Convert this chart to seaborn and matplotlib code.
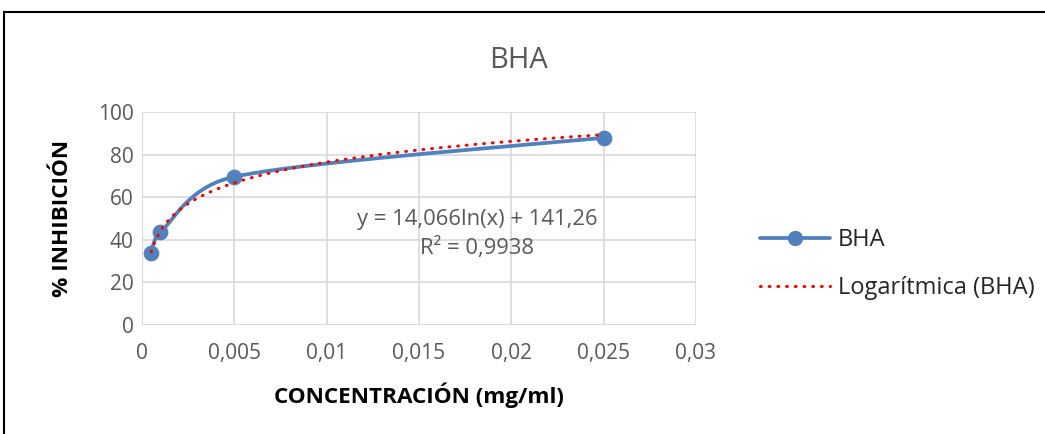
import numpy as np
import pandas as pd
import matplotlib
matplotlib.use("Agg")
import matplotlib.pyplot as plt
import seaborn as sns
from matplotlib.lines import Line2D
from matplotlib.patches import Rectangle

# Data
concentration = [0.0005, 0.001, 0.005, 0.025]
inhibition = [33.7, 43.5, 69.6, 87.9]
fit_a = 14.066
fit_b = 141.26
r2_text = "R² = 0,9938"
eq_text = "y = 14,066ln(x) + 141,26"
x_ticks = [0, 0.005, 0.01, 0.015, 0.02, 0.025, 0.03]
x_tick_labels = ["0", "0,005", "0,01", "0,015", "0,02", "0,025", "0,03"]
y_ticks = [0, 20, 40, 60, 80, 100]

sns.set_theme(style="white")
plt.rcParams['font.family'] = ['Open Sans', 'DejaVu Sans']

BLUE = "#4f81bd"
RED = "#ff0000"
GRID = "#d9d9d9"
TXT = "#595959"
DOTS = (0, (0.25, 2.6))

fig = plt.figure(figsize=(10.45, 4.34), dpi=100)
ax = fig.add_axes([142/1045, 1-325/434, (696-142)/1045, (325-112)/434])
ax.set_xlim(0, 0.03)
ax.set_ylim(0, 100)

# Excel-like smoothed line: Bezier through the data points in screen space
def smooth_screen(xs, ys, n=80):
    pts = ax.transData.transform(np.column_stack([xs, ys]))
    m = len(pts)
    out = [pts[0:1]]
    for i in range(m - 1):
        p1, p2 = pts[i], pts[i+1]
        seg = np.linalg.norm(p2 - p1)
        p0 = pts[i-1] if i > 0 else p1
        p3 = pts[i+2] if i + 2 < m else p2
        def ctrl(t):
            L = np.linalg.norm(t)
            if L == 0:
                return np.zeros(2)
            return t / L * min(L / 6.0, 0.5 * seg)
        c1 = p1 + ctrl(p2 - p0)
        c2 = p2 - ctrl(p3 - p1)
        tt = np.linspace(0, 1, n)[1:, None]
        b = ((1-tt)**3)*p1 + 3*((1-tt)**2)*tt*c1 + 3*(1-tt)*tt**2*c2 + tt**3*p2
        out.append(b)
    return ax.transData.inverted().transform(np.vstack(out))

curve = smooth_screen(concentration, inhibition)
ax.plot(curve[:, 0], curve[:, 1], color=BLUE, lw=2.7, solid_capstyle="round", zorder=3)
df = pd.DataFrame({"x": concentration, "y": inhibition})
sns.scatterplot(data=df, x="x", y="y", ax=ax, color=BLUE, s=110, edgecolor=BLUE, zorder=4, legend=False)

# trend line
tx = np.linspace(concentration[0], concentration[-1], 400)
tdf = pd.DataFrame({"x": tx, "y": fit_a*np.log(tx) + fit_b})
sns.lineplot(data=tdf, x="x", y="y", ax=ax, color=RED, lw=2.2, linestyle=DOTS, zorder=5)
for l in ax.lines:
    if l.get_color() == RED:
        l.set_dash_capstyle("round")

ax.set_xlim(0, 0.03)
ax.set_ylim(0, 100)
ax.set_xticks(x_ticks)
ax.set_xticklabels(x_tick_labels)
ax.set_yticks(y_ticks)
ax.grid(True, color=GRID, lw=1.2)
for s in ax.spines.values():
    s.set_visible(False)
ax.axhline(0, color=GRID, lw=1.5, zorder=1)
ax.axvline(0, color=GRID, lw=1.5, zorder=1)
ax.tick_params(axis="both", length=0, labelsize=15, colors=TXT)
ax.tick_params(axis="y", pad=6)
ax.tick_params(axis="x", pad=13)
ax.set_xlabel("CONCENTRACIÓN (mg/ml)", fontsize=16.2, fontweight="bold", color="black")
ax.set_ylabel("% INHIBICIÓN", fontsize=16.2, fontweight="bold", color="black")
ax.xaxis.set_label_coords(0.5, (325-395)/213)
ax.xaxis.label.set_va("center")
ax.yaxis.set_label_coords((62-142)/554, 0.5)
ax.yaxis.label.set_va("center")

ax.text(0.01814, 49.3, eq_text, ha="center", va="center", fontsize=15.8, color=TXT)
ax.text(0.01814, 36.2, r2_text, ha="center", va="center", fontsize=15.8, color=TXT)

fig.text(519/1045, 1-60/434, "BHA", ha="center", va="center", fontsize=21, color=TXT)

handles = [Line2D([], [], color=BLUE, lw=2.7, marker="o", markersize=10, solid_capstyle="round"),
           Line2D([], [], color=RED, lw=2.2, linestyle=DOTS, dash_capstyle="round")]
fig.legend(handles, ["BHA", "Logarítmica (BHA)"], loc="center left",
           bbox_to_anchor=(760/1045, 1-264/434), frameon=False, fontsize=17,
           handlelength=2.97, labelspacing=1.0, handletextpad=0.34,
           borderpad=0, borderaxespad=0)

fig.add_artist(Rectangle((4/1045, -0.1), 1.2, 1 - 12/434 + 0.1, transform=fig.transFigure,
                         fill=False, edgecolor="black", lw=1.5))

fig.savefig("out.png", dpi=100)
